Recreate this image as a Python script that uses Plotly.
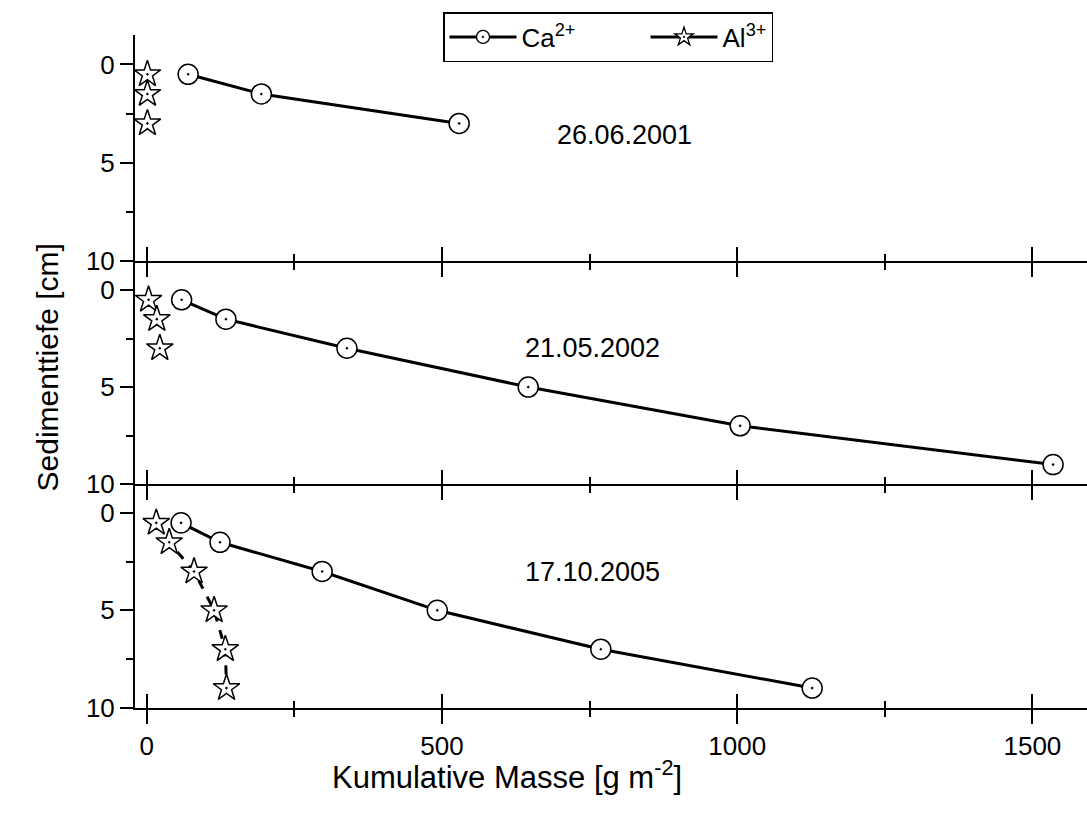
import plotly.graph_objects as go

# ---- data ----
depth3 = [0.5, 1.5, 3]
depth6 = [0.5, 1.5, 3, 5, 7, 9]

ca_2001 = [70, 194, 529]
al_2001 = [1, 1, 1]

ca_2002 = [59, 134, 339, 646, 1005, 1535]
al_2002 = [3, 17, 22]

ca_2005 = [58, 124, 297, 492, 769, 1127]
al_2005 = [16, 38, 80, 114, 133, 135]

dates = ["26.06.2001", "21.05.2002", "17.10.2005"]
date_x = [809, 755, 755]
date_y = [3.6, 3.0, 3.05]

x_ticks = [0, 500, 1000, 1500]
x_minor = [250, 750, 1250]
y_ticks = [0, 5, 10]
y_minor = [2.5, 7.5]

FONT = "Liberation Sans, Arial, sans-serif"
W, H = 1087, 814
NBSP = "\u00a0"

fig = go.Figure()

ca_marker = dict(symbol="circle-dot", size=20, color="white", line=dict(color="black", width=1.5))
al_marker = dict(symbol="star-dot", size=20, color="white", line=dict(color="black", width=1.5))

panels = [
    (ca_2001, depth3, al_2001, depth3, "markers", "solid"),
    (ca_2002, depth6, al_2002, depth3, "markers", "solid"),
    (ca_2005, depth6, al_2005, depth6, "lines+markers", "dash"),
]

for i, (cx, cy, ax_, ay, almode, aldash) in enumerate(panels):
    xa = "x" if i == 0 else f"x{i+1}"
    ya = "y" if i == 0 else f"y{i+1}"
    fig.add_trace(go.Scatter(x=cx, y=cy, mode="lines+markers", xaxis=xa, yaxis=ya,
                             line=dict(color="black", width=3), marker=ca_marker,
                             showlegend=False, cliponaxis=False))
    fig.add_trace(go.Scatter(x=ax_, y=ay, mode=almode, xaxis=xa, yaxis=ya,
                             line=dict(color="black", width=3, dash=aldash), marker=al_marker,
                             showlegend=False, cliponaxis=False))

# legend entries
fig.add_trace(go.Scatter(x=[None], y=[None], mode="lines+markers",
                         name="Ca<sup>2+</sup>" + NBSP * 9,
                         line=dict(color="black", width=3),
                         marker=dict(symbol="circle-dot", size=13, color="white",
                                     line=dict(color="black", width=1.3))))
fig.add_trace(go.Scatter(x=[None], y=[None], mode="lines+markers", name="Al<sup>3+</sup>",
                         line=dict(color="black", width=3),
                         marker=dict(symbol="star-dot", size=14, color="white",
                                     line=dict(color="black", width=1.3))))

# invisible traces for overlay axes (inside ticks)
for j in range(3):
    fig.add_trace(go.Scatter(x=[None], y=[None], xaxis=f"x{j+4}", yaxis="y" if j == 0 else f"y{j+1}",
                             showlegend=False, hoverinfo="skip"))

xdom = [135 / W, 1.0]
xrange_ = [-20, -20 + (W - 135) / 0.5904]
ydoms = [[1 - 261 / H, 1 - 35 / H], [1 - 484 / H, 1 - 261 / H], [1 - 707.5 / H, 1 - 484 / H]]
yrange_ = [10, -1.5]

tickfont = dict(family=FONT, size=26, color="black")

layout = dict(
    width=W, height=H,
    margin=dict(l=0, r=0, t=0, b=0, autoexpand=False),
    plot_bgcolor="white", paper_bgcolor="white",
    font=dict(family=FONT, color="black"),
    showlegend=True,
    legend=dict(orientation="h", x=443 / W, xanchor="left", y=1 - 12 / H, yanchor="top",
                bordercolor="black", borderwidth=1.5, bgcolor="white",
                font=dict(family=FONT, size=26, color="black"),
                itemwidth=67, tracegroupgap=0),
)

for i in range(3):
    xk = "xaxis" if i == 0 else f"xaxis{i+1}"
    yk = "yaxis" if i == 0 else f"yaxis{i+1}"
    ya = "y" if i == 0 else f"y{i+1}"
    xa = "x" if i == 0 else f"x{i+1}"
    layout[xk] = dict(domain=xdom, range=xrange_, anchor=ya, showline=True, linewidth=2,
                      linecolor="black", ticks="outside", ticklen=14, tickwidth=2,
                      tickcolor="black", tickvals=x_ticks, showgrid=False, zeroline=False,
                      showticklabels=(i == 2), tickfont=tickfont, ticklabelstandoff=0,
                      minor=dict(tickvals=x_minor, ticks="outside", ticklen=7, tickwidth=2,
                                 tickcolor="black", showgrid=False))
    layout[f"xaxis{i+4}"] = dict(domain=xdom, range=xrange_, anchor=ya, overlaying=xa,
                                 showline=False, ticks="inside", ticklen=14, tickwidth=2,
                                 tickcolor="black", tickvals=x_ticks, showgrid=False,
                                 zeroline=False, showticklabels=False,
                                 minor=dict(tickvals=x_minor, ticks="inside", ticklen=7,
                                            tickwidth=2, tickcolor="black", showgrid=False))
    layout[yk] = dict(domain=ydoms[i], range=yrange_, anchor=xa, showline=True, linewidth=2,
                      linecolor="black", ticks="outside", ticklen=13, tickwidth=2,
                      tickcolor="black", tickvals=y_ticks, showgrid=False, zeroline=False,
                      tickfont=tickfont,
                      minor=dict(tickvals=y_minor, ticks="outside", ticklen=7, tickwidth=2,
                                 tickcolor="black", showgrid=False))

annotations = []
for i in range(3):
    annotations.append(dict(x=date_x[i], y=date_y[i], xref="x" if i == 0 else f"x{i+1}",
                            yref="y" if i == 0 else f"y{i+1}", text=dates[i], showarrow=False,
                            font=dict(family=FONT, size=27, color="black")))
annotations.append(dict(x=507 / W, y=1 - 797 / H, xref="paper", yref="paper",
                        text="Kumulative Masse [g m<sup>-2</sup>]", showarrow=False,
                        font=dict(family=FONT, size=31, color="black")))
annotations.append(dict(x=29 / W, y=1 - 368 / H, xref="paper", yref="paper",
                        text="Sedimenttiefe [cm]", showarrow=False, textangle=-90,
                        font=dict(family=FONT, size=30, color="black")))
layout["annotations"] = annotations

fig.update_layout(**layout)
fig.write_html("out.html")
